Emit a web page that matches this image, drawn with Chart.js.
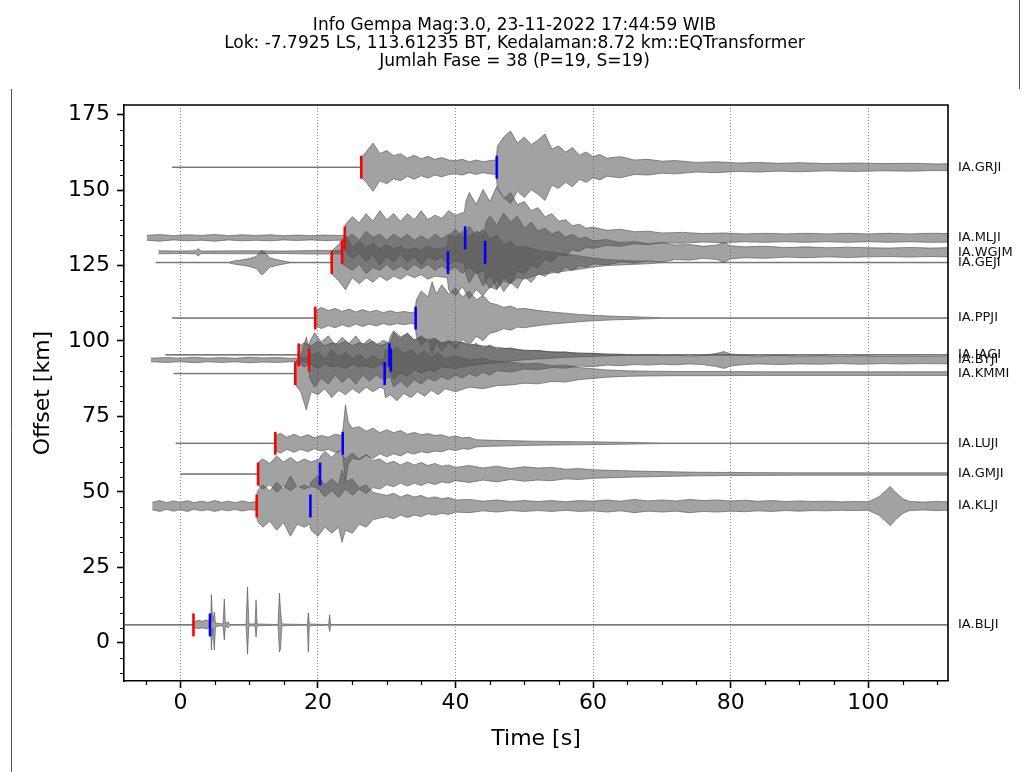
<!DOCTYPE html>
<html>
<head>
<meta charset="utf-8">
<script src="https://cdn.jsdelivr.net/npm/chart.js@4.4.1/dist/chart.umd.min.js"></script>
<style>
  body { margin: 0; background: #fff; }
  canvas { display: block; }
</style>
</head>
<body>
<canvas id="myChart" width="1029" height="772"></canvas>
<script>
const stations = ["IA.GRJI", "IA.MLJI", "IA.WGJM", "IA.GEJI", "IA.PPJI", "IA.IAGI",
  "IA.BYJI", "IA.KMMI", "IA.LUJI", "IA.GMJI", "IA.KLJI", "IA.BLJI"];
const offsets = [157.6, 134.2, 129.4, 126.0, 107.6, 95.4, 93.7, 89.2, 66.1, 55.9, 45.3, 5.9];
const pTimes = [26.3, 23.9, 23.5, 22.0, 19.6, 17.2, 18.7, 16.7, 13.8, 11.3, 11.1, 1.9];
const sTimes = [46.0, 41.4, 44.3, 38.9, 34.2, 30.4, 30.6, 29.7, 23.6, 20.3, 18.9, 4.3];

const xMajor = [0, 20, 40, 60, 80, 100];
const yMajor = [0, 25, 50, 75, 100, 125, 150, 175];

// trace envelopes: [time s, half amplitude km] (BLJI: [time, up, down])
const grjiEnv = [[-1.2,0.1],[26.2,0.1],[26.4,3.5],[27,5],[28,8],[29,4.5],[30,5.5],[31,3.8],[32,4.5],[33,3],
  [34,4],[35,2.8],[36,3.6],[37,2.6],[38,3.2],[39,2.4],[40,2.2],[41,2.6],[42,1.8],[43,2.4],[44,1.8],[45,2.2],
  [45.9,2.4],[46.1,7],[47,10],[48,12],[49,8],[50,10],[51,7.5],[52,9],[53,11],[54,6],[55,7],[56,5],[57,6.5],
  [58,4],[59,5],[60,3.5],[61,4.2],[62,3],[64,3.5],[66,2.4],[68,2.6],[70,2],[72,2.2],[75,1.6],[78,1.8],
  [81,1.4],[84,1.6],[87,1.3],[90,1.5],[94,1.2],[98,1.4],[102,1.2],[106,1.3],[110,1.1],[113,1.2]];
const mljiEnv = [[-4.9,0.8],[-3,1.1],[-1,0.7],[1,1],[3,0.8],[5,1.1],[7,0.7],[9,1],[11,0.8],[13,1],[15,0.7],
  [17,0.9],[19,0.7],[21,0.9],[23,0.8],[23.8,0.8],[24,4.5],[25,7],[26,5],[27,8],[28,5.5],[29,9],[30,6],[31,8],
  [32,5.5],[33,8],[34,6],[35,9],[36,6],[37,7.5],[38,6.5],[39,9],[40,7.5],[41.3,8.5],[41.5,12],[42,15],[43,11],
  [44,16],[45,12],[46,17],[47,13],[48,15],[49,11],[50,12],[51,9],[52,10],[53,7],[54,8],[55,5.5],[56,6],[57,4],
  [58,4.5],[59,3.2],[60,3.5],[62,2.5],[64,2.8],[66,2],[68,2.2],[70,1.6],[73,1.8],[76,1.4],[79,1.6],[82,1.3],
  [85,1.5],[88,1.3],[91,1.5],[94,1.3],[97,1.5],[100,1.3],[103,1.5],[106,1.3],[109,1.5],[113,1.4]];
const wgjmEnv = [[-3.2,0.5],[0,0.4],[2.2,0.5],[2.6,1.2],[3,0.4],[10,0.5],[15,0.4],[20,0.6],[23.4,0.5],[23.6,4],
  [25,6],[26,4],[27,7],[28,5],[29,6],[30,4],[31,6],[32,4.5],[33,6],[34,4],[35,5.5],[36,4],[37,6],[38,4.5],[39,6],
  [40,5],[41,7],[42,5],[43,7],[44.2,6],[44.4,10],[45,12],[46,9],[47,13],[48,10],[49,12],[50,8],[51,10],[52,7],
  [53,8],[54,6],[55,7],[56,5],[57,6],[58,4.5],[59,5],[60,3.8],[62,4.2],[64,3.2],[66,3.6],[68,2.8],[70,3.2],
  [72,2.4],[74,2.6],[76,2],[78,2.4],[79,3.3],[80,2.2],[82,1.8],[85,2],[88,1.6],[91,1.8],[94,1.5],[97,1.7],
  [100,1.5],[103,1.4],[106,1.6],[109,1.4],[113,1.6]];
const gejiEnv = [[-3.6,0.1],[7,0.1],[8,0.6],[9,0.9],[10,1.3],[11,2],[11.8,4],[12.2,3.5],[13,1.5],[14,1],[15,0.5],
  [16,0.1],[21.9,0.1],[22.1,4],[23,6],[24,9],[25,5],[26,7],[27,5],[28,6.5],[29,4.5],[30,6],[31,4.5],[32,5.5],
  [33,4],[34,5],[35,4],[36,5.5],[37,4.5],[38.8,5],[39,9],[40,11],[41,8],[42,12],[43,9],[44,11],[45,8],[46,9],
  [47,6],[48,7],[49,5],[50,5.5],[52,4],[54,3.5],[56,2.8],[58,2.2],[60,1.5],[62,1],[64,0.8],[66,0.6],[68,0.4],
  [70,0.1],[113,0.1]];
const ppjiEnv = [[-1.2,0.1],[19.5,0.1],[19.7,2.5],[20.5,3.5],[21.5,2.5],[22.5,3.2],[23.5,2.2],[24.5,3],[25.5,2],
  [26.5,2.8],[27.5,2],[28.5,2.6],[29.5,1.8],[30.5,2.4],[31.5,1.8],[32.5,2.2],[33.5,1.8],[34.1,2],[34.3,6],[35,9],
  [36,7],[36.6,12],[37.2,8],[38,11],[39,8],[40,10],[41,7],[42,9],[43,6],[44,7.5],[45,5],[46,4.5],[47,3.5],[48,4],
  [49,3],[50,3.2],[52,2.5],[54,2],[56,1.6],[58,1.2],[60,0.9],[63,0.6],[66,0.4],[70,0.1],[113,0.1]];
const iagiEnv = [[-2.2,0.1],[17.1,0.1],[17.3,3],[18,4],[19,3],[20,4.5],[21,3],[22,4],[23,3.5],[24,4.5],[25,3],
  [26,4],[27,3.5],[28,4.5],[29,3],[30.3,4],[30.5,6],[31,8],[32,6],[33,7],[34,5],[35,6],[36,5],[37,5.5],[38,4],
  [40,4.5],[42,3.5],[44,3],[46,2.5],[48,2],[50,1.6],[53,1.2],[56,0.8],[60,0.5],[65,0.1],[113,0.1]];
const byjiEnv = [[-4.3,0.6],[-2,0.8],[0,0.6],[2,0.9],[4,0.6],[6,0.8],[8,0.6],[10,0.9],[12,0.7],[14,0.8],[16,0.6],
  [18.6,0.8],[18.8,6],[19.5,9],[20.5,6],[21.5,8],[22.5,5],[23.5,7.5],[24.5,5.5],[25.5,8],[26.5,5],[27.5,7],
  [28.5,5],[29.5,6.5],[30.5,5.5],[31,9],[32,7],[33,9],[34,6.5],[35,8],[36,6],[37,7],[38,5.5],[39,6.5],[40,5],
  [41,6],[42,4.5],[43,5.5],[44,4],[45,5],[46,3.5],[48,4],[50,3],[52,3.2],[54,2.5],[56,2.7],[58,2],[60,2.2],
  [62,1.7],[64,1.9],[66,1.5],[68,1.7],[70,1.4],[72,1.6],[74,1.3],[76,1.5],[78,2.2],[79,2.8],[80,2],[82,1.5],
  [84,1.3],[87,1.5],[90,1.3],[93,1.4],[96,1.2],[99,1.4],[102,1.2],[105,1.3],[108,1.2],[113,1.3]];
const kmmiEnv = [[-1,0.1],[16.6,0.1],[16.8,4],[17.5,6],[18.3,12],[19,6],[20,7],[21,5],[22,8],[23,5.5],[24,7],
  [25,5],[26,6.5],[27,4.5],[28,6],[29,4.5],[29.6,5],[29.8,8],[30.5,7],[31.5,9],[32.5,6.5],[33.5,8],[34.5,6],
  [35.5,7.5],[36.5,5.5],[37.5,7],[38.5,5],[40,6],[42,4.5],[44,5],[46,4],[48,3.8],[50,3.2],[52,3.4],[54,2.6],
  [56,2.8],[58,2],[60,1.6],[62,1.2],[65,0.9],[68,0.8],[72,0.7],[78,0.7],[85,0.6],[95,0.6],[105,0.6],[113,0.6]];
const lujiEnv = [[-0.7,0.1],[13.7,0.1],[13.9,2.5],[14.5,3.3],[15.5,2],[16.5,3],[17.5,2],[18.5,2.8],[19.5,1.8],
  [20.5,2.6],[21.5,2],[22.5,3],[23.5,2.5],[23.7,6],[24,12.7],[24.4,7],[25,5],[26,5.5],[27,4],[28,5],[29,3.5],
  [30,4.5],[31,3.5],[32,4.2],[33,3],[34,3.6],[35,2.8],[36,3.2],[37,2.6],[38,2.8],[39,2],[40,2.4],[41,1.8],[42,2],
  [43,1.2],[45,1],[47,0.9],[49,0.8],[51,0.7],[54,0.6],[58,0.5],[62,0.4],[70,0.1],[113,0.1]];
const gmjiEnv = [[0,0.1],[11.2,0.1],[11.4,4],[12,5],[13,3.5],[14,6],[15,4],[16,5.5],[17,3.8],[18,5],[19,4],
  [20.2,5],[20.4,6],[21,7.5],[22,5.5],[23,7.8],[24,5],[25,7],[26,5],[27,6.5],[28,4.5],[29,5],[30,3.5],[31,4.2],
  [32,3],[33,4],[34,3],[35,3.8],[36,2.8],[37,3.5],[38,2.6],[39,3],[40,2.2],[42,2.8],[44,2],[46,2.6],[48,1.8],
  [50,2.4],[52,2],[54,2.2],[56,1.6],[58,1.8],[60,1.4],[63,1.2],[66,1],[70,0.8],[75,0.6],[80,0.5],[90,0.4],
  [113,0.4]];
const kljiEnv = [[-4.1,1.2],[-3,1.8],[-2,1.1],[-1,1.7],[0,1.2],[1,1.8],[2,1.1],[3,1.6],[4,1.2],[5,1.8],[6,1.2],
  [7,1.6],[8,1.1],[9,1.7],[10,1.2],[11,1.4],[11.2,5],[12,7],[13,5],[14,8],[15,5.5],[16,10],[17,6],[18,7],
  [18.8,6],[19,8],[20,10],[21,7],[22,9],[23,7],[23.5,12],[24,8],[25,9],[26,6],[27,7],[28,4.5],[29,4],[30,3.5],
  [31,4.2],[32,3],[33,3.8],[34,3],[35,3.5],[36,2.6],[37,3],[38,2.4],[39,2.8],[40,2],[42,2.2],[44,1.6],[46,2],
  [48,1.5],[50,1.8],[52,1.5],[54,1.8],[56,1.4],[58,1.8],[60,1.6],[62,2],[64,1.6],[66,2.2],[68,1.7],[70,2],
  [72,1.7],[74,2.2],[76,1.8],[78,2],[80,1.7],[82,1.9],[84,1.6],[86,1.8],[88,1.5],[90,1.7],[92,1.5],[94,1.6],
  [96,1.4],[98,1.5],[100,1.4],[101.5,3],[102.5,5],[103.2,6.5],[104,4.5],[105,2.5],[106,1.5],[108,1.3],[110,1.5],
  [113,1.3]];
const bljiEnv = [[-9,0.1,0.1],[1.8,0.1,0.1],[2,1,1],[2.6,1.5,1.2],[3.2,1.2,1],[3.8,1.6,1.3],[4.3,1.2,1],
  [4.4,0.5,0.5],[4.5,10,8.3],[4.7,1,1],[4.93,4.3,8.3],[5.1,0.6,0.6],[5.6,0.5,0.4],[6.2,0.3,0.3],[6.38,8.6,5],
  [6.55,0.3,0.3],[6.9,1,1],[7.2,0.1,0.1],[9.55,0.1,0.1],[9.76,12.6,9.7],[9.95,0.3,0.3],[10.85,0.3,0.3],
  [11,8.3,4],[11.15,0.3,0.3],[14.2,0.1,0.1],[14.4,10.5,9],[14.55,5,8],[14.75,0.3,0.3],[18.45,0.1,0.1],
  [18.6,4,9],[18.75,0.3,0.3],[21.55,0.1,0.1],[21.7,3.3,2.2],[21.85,0.1,0.1],[113,0.1,0.1]];

const envelopes = [grjiEnv, mljiEnv, wgjmEnv, gejiEnv, ppjiEnv, iagiEnv, byjiEnv, kmmiEnv,
  lujiEnv, gmjiEnv, kljiEnv, bljiEnv];

const titleLines = [
  "Info Gempa Mag:3.0, 23-11-2022 17:44:59 WIB",
  "Lok: -7.7925 LS, 113.61235 BT, Kedalaman:8.72 km::EQTransformer",
  "Jumlah Fase = 38 (P=19, S=19)"
];

const FONT = "'DejaVu Sans', sans-serif";
const pickHalf = 3.8;

const datasets = [];
envelopes.forEach((env, i) => {
  const off = offsets[i];
  datasets.push({
    data: env.map((p) => ({ x: p[0], y: off + p[1] })),
    borderColor: "rgba(75,75,75,0.85)",
    backgroundColor: "rgba(85,85,85,0.55)",
    borderWidth: 0.7,
    fill: "+1",
    order: 2,
  });
  datasets.push({
    data: env.map((p) => ({ x: p[0], y: off - (p.length > 2 ? p[2] : p[1]) })),
    borderColor: "rgba(75,75,75,0.85)",
    borderWidth: 0.7,
    fill: false,
    order: 2,
  });
});
offsets.forEach((off, i) => {
  datasets.push({
    data: [{ x: pTimes[i], y: off - pickHalf }, { x: pTimes[i], y: off + pickHalf }],
    borderColor: "#ff0000",
    borderWidth: 2.6,
    order: 0,
  });
  datasets.push({
    data: [{ x: sTimes[i], y: off - pickHalf }, { x: sTimes[i], y: off + pickHalf }],
    borderColor: "#0000ff",
    borderWidth: 2.6,
    order: 0,
  });
});

const pageFrame = {
  id: "pageFrame",
  beforeDraw(chart) {
    const ctx = chart.ctx;
    ctx.save();
    ctx.fillStyle = "#fff";
    ctx.fillRect(0, 0, chart.width, chart.height);
    ctx.strokeStyle = "#555";
    ctx.lineWidth = 1;
    ctx.beginPath();
    ctx.moveTo(11.5, 89); ctx.lineTo(11.5, chart.height);
    ctx.moveTo(1019.5, 0); ctx.lineTo(1019.5, 89);
    ctx.stroke();
    ctx.restore();
  },
};

const axesExtras = {
  id: "axesExtras",
  afterDraw(chart) {
    const { ctx, chartArea, scales } = chart;
    const x = scales.x, y = scales.y;
    ctx.save();
    // minor ticks
    ctx.strokeStyle = "#000";
    ctx.lineWidth = 1.2;
    ctx.beginPath();
    for (let v = Math.ceil(x.min / 5) * 5; v <= x.max; v += 5) {
      if (xMajor.includes(v)) continue;
      const px = Math.round(x.getPixelForValue(v)) + 0.5;
      ctx.moveTo(px, chartArea.bottom);
      ctx.lineTo(px, chartArea.bottom + 4);
    }
    for (let v = Math.ceil(y.min / 5) * 5; v <= y.max; v += 5) {
      if (yMajor.includes(v)) continue;
      const py = Math.round(y.getPixelForValue(v)) + 0.5;
      ctx.moveTo(chartArea.left, py);
      ctx.lineTo(chartArea.left - 4, py);
    }
    ctx.stroke();
    // top and right spines
    ctx.lineWidth = 1.6;
    ctx.beginPath();
    ctx.moveTo(chartArea.left, chartArea.top);
    ctx.lineTo(chartArea.right, chartArea.top);
    ctx.lineTo(chartArea.right, chartArea.bottom);
    ctx.stroke();
    // station names
    ctx.fillStyle = "#111";
    ctx.font = "13px " + FONT;
    ctx.textBaseline = "middle";
    ctx.textAlign = "left";
    stations.forEach((name, i) => {
      ctx.fillText(name, chartArea.right + 10, y.getPixelForValue(offsets[i]));
    });
    ctx.restore();
  },
};

new Chart(document.getElementById("myChart"), {
  type: "line",
  data: { datasets: datasets },
  options: {
    responsive: false,
    animation: false,
    elements: { point: { radius: 0 }, line: { tension: 0 } },
    layout: { padding: 0 },
    plugins: {
      legend: { display: false },
      tooltip: { enabled: false },
      title: {
        display: true,
        text: titleLines,
        color: "#000",
        font: { family: FONT, size: 17, weight: "normal", lineHeight: 1.06 },
        padding: { top: 17, bottom: 34 },
      },
    },
    scales: {
      x: {
        type: "linear",
        min: -8.2,
        max: 111.6,
        afterBuildTicks: (s) => { s.ticks = xMajor.map((v) => ({ value: v })); },
        afterFit: (s) => { s.height = 91; },
        ticks: { color: "#000", font: { family: FONT, size: 22 }, padding: 2, maxRotation: 0 },
        grid: {
          color: "rgba(0,0,0,0.6)",
          lineWidth: 0.8,
          drawTicks: true,
          tickLength: 7,
          tickWidth: 1.6,
          tickColor: "#000",
        },
        border: { display: true, color: "#000", width: 1.6, dash: [1, 2] },
        title: {
          display: true,
          text: "Time [s]",
          color: "#000",
          font: { family: FONT, size: 22 },
          padding: { top: 0, bottom: 20 },
        },
      },
      y: {
        type: "linear",
        min: -12.7,
        max: 178.2,
        afterBuildTicks: (s) => { s.ticks = yMajor.map((v) => ({ value: v })); },
        afterFit: (s) => { s.width = 124; },
        ticks: { color: "#000", font: { family: FONT, size: 22 }, padding: 7 },
        grid: {
          drawOnChartArea: false,
          drawTicks: true,
          tickLength: 7,
          tickWidth: 1.6,
          tickColor: "#000",
        },
        border: { display: true, color: "#000", width: 1.6 },
        title: {
          display: true,
          text: "Offset [km]",
          color: "#000",
          font: { family: FONT, size: 22 },
          padding: { top: 30, bottom: 0 },
        },
      },
      yRight: {
        type: "linear",
        position: "right",
        afterFit: (s) => { s.width = 81; },
        ticks: { display: false },
        grid: { display: false, drawTicks: false },
        border: { display: false },
      },
    },
  },
  plugins: [pageFrame, axesExtras],
});
</script>
</body>
</html>
